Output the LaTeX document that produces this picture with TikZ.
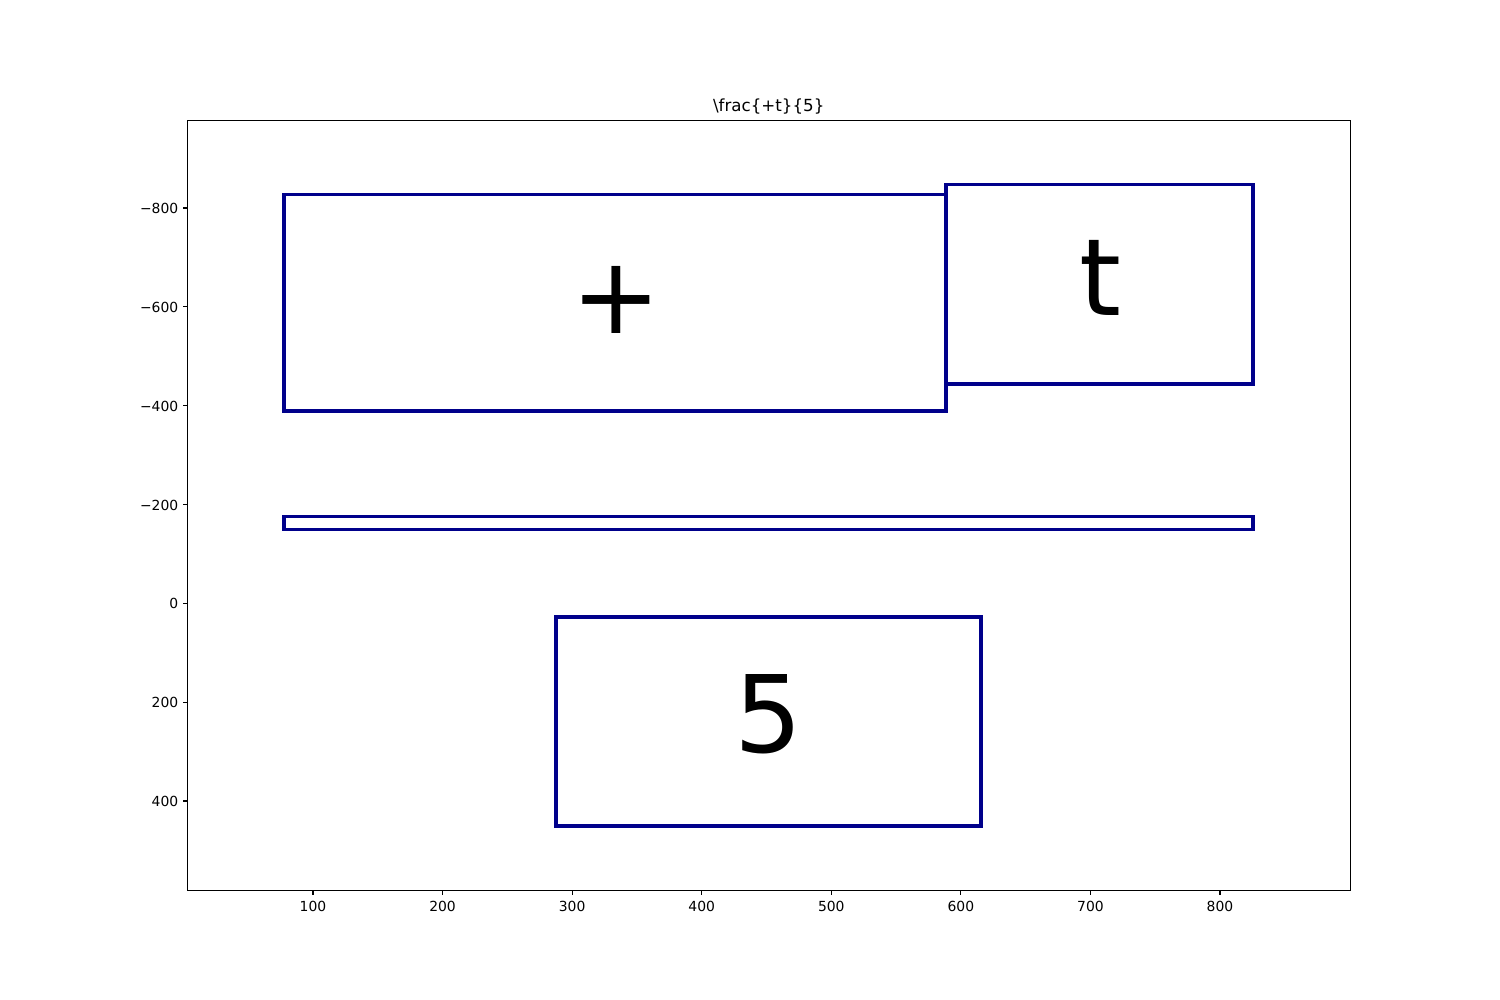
\documentclass[tikz,border=0pt]{standalone}
\usepackage{fontspec}
\setmainfont{DejaVu Sans}
\definecolor{boxblue}{HTML}{00008B}
\tikzset{
  frame/.style={draw=black, line width=0.7bp},
  tickmark/.style={draw=black, line width=0.8bp},
  glyphbox/.style={draw=boxblue, line width=2.3bp, line join=miter},
  bigtext/.style={inner sep=0pt, anchor=base, font=\fontsize{77bp}{92bp}\selectfont},
  xlab/.style={inner sep=0pt, anchor=base, font=\fontsize{10bp}{12bp}\selectfont},
  ylab/.style={inner sep=0pt, anchor=base east, font=\fontsize{10bp}{12bp}\selectfont},
  ttl/.style={inner sep=0pt, anchor=base, font=\fontsize{12bp}{14bp}\selectfont}
}
\begin{document}
\begin{tikzpicture}[x=0.01in,y=-0.01in]
\useasboundingbox[fill=white] (0,0) rectangle (1500,1000);
% boxes
\draw[glyphbox] (284,194.3) rectangle (946,411);
\draw[glyphbox] (946,184.3) rectangle (1253,384);
\draw[glyphbox] (284,516.3) rectangle (1253,529.3);
\draw[glyphbox] (556,617) rectangle (981,826);
% texts
\node[bigtext] (plus) at (616,333.5) {+};
\node[bigtext] (tee) at (1100,315) {t};
\node[bigtext] (five) at (768.5,752.7) {5};
% axes frame
\draw[frame] (187.5,120) rectangle (1350,890);
% x ticks
\foreach \v in {100,200,...,800}{
  \pgfmathsetmacro{\px}{183.43+1.2957*\v}
  \draw[tickmark] (\px,890) -- (\px,894.86);
  \node[xlab] (xl\v) at (\px,911) {\v};
}
% y ticks
\foreach \v/\lab in {-800/−800,-600/−600,-400/−400,-200/−200,0/0,200/200,400/400}{
  \pgfmathsetmacro{\py}{603.3+0.49417*\v}
  \draw[tickmark] (187.5,\py) -- (182.64,\py);
  \node[ylab] (yl\v) at (178.5,\py+5.6) {\lab};
}
% title
\node[ttl] (title) at (768.75,111.7) {\textbackslash frac\{+t\}\{5\}};
\end{tikzpicture}
\end{document}
